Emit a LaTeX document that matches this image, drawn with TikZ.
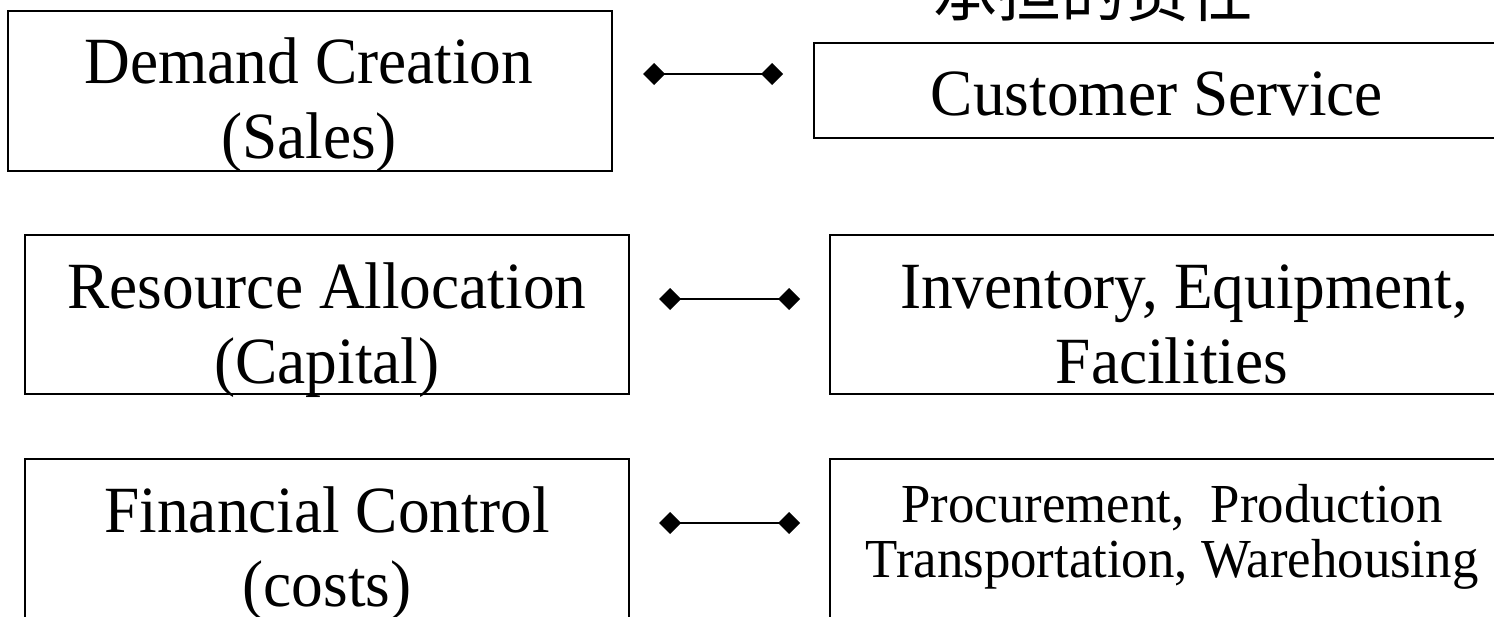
\documentclass[tikz,border=0pt]{standalone}
\usepackage{fontspec}
\setmainfont[FakeStretch=0.96]{Liberation Serif}
\newfontfamily\cjkf{Noto Sans CJK SC}
\usetikzlibrary{arrows.meta}
\newcommand\fbig{\fontsize{66}{75}\selectfont}
\newcommand\fsmall{\fontsize{55}{60}\selectfont}
\begin{document}
\begin{tikzpicture}[x=1pt,y=-1pt,
  box/.style={draw, line width=1.8pt, inner sep=0pt},
  txt/.style={anchor=base, inner sep=0pt, font=\fbig},
  stxt/.style={anchor=base, inner sep=0pt, font=\fsmall},
  link/.style={line width=1.5pt, {Diamond[length=22pt,width=22pt]}-{Diamond[length=22pt,width=22pt]}}]
\useasboundingbox (0,0) rectangle (1494,616);
\clip (0,0) rectangle (1494,616);
% boxes
\node[box, minimum width=604pt, minimum height=160pt] (b1) at (310,91) {};
\node[box, minimum width=604pt, minimum height=159pt] (b2) at (327,314.5) {};
\node[box, minimum width=604pt, minimum height=181pt] (b3) at (327,549.5) {};
\node[box, minimum width=706pt, minimum height=95pt] (r1) at (1167,90.5) {};
\node[box, minimum width=690pt, minimum height=159pt] (r2) at (1175,314.5) {};
\node[box, minimum width=690pt, minimum height=181pt] (r3) at (1175,549.5) {};
% title
\node[anchor=base west, inner sep=0pt, font=\cjkf\fontsize{64}{70}\selectfont] (title) at (933,16) {承担的责任};
% texts
\node[txt] (t1a) at (309,83) {Demand Creation};
\node[txt] (t1b) at (309,158) {(Sales)};
\node[txt] (u1) at (1157,115) {Customer Service};
\node[txt] (t2a) at (327,308) {Resource Allocation};
\node[txt] (t2b) at (327,383) {(Capital)};
\node[txt] (u2a) at (1184,308) {Inventory, Equipment,};
\node[txt] (u2b) at (1172,383) {Facilities};
\node[txt] (t3a) at (327,532) {Financial Control};
\node[txt] (t3b) at (327,606) {(costs)};
\node[stxt] (u3a) at (1172,522) {Procurement,\ \ Production};
\node[stxt] (u3b) at (1172,577) {Transportation, Warehousing};
% connectors
\coordinate (c1l) at (643,74);
\coordinate (c1r) at (783,74);
\coordinate (c2l) at (659,299);
\coordinate (c2r) at (800,299);
\coordinate (c3l) at (659,523);
\coordinate (c3r) at (800,523);
\draw[link] (c1l) -- (c1r);
\draw[link] (c2l) -- (c2r);
\draw[link] (c3l) -- (c3r);
\end{tikzpicture}
\end{document}
